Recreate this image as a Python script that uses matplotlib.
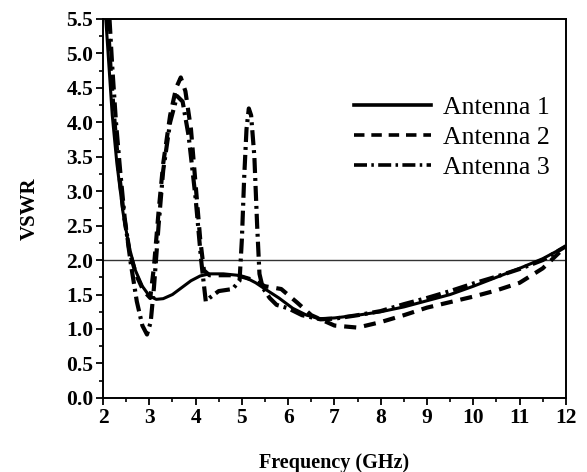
import matplotlib
matplotlib.use("Agg")
import matplotlib.pyplot as plt
from matplotlib.lines import Line2D

# Antenna 1 (solid)
f1 = [2.06, 2.12, 2.2, 2.3, 2.43, 2.56, 2.7, 2.85, 3.0, 3.15, 3.3, 3.5, 3.7, 3.9, 4.1, 4.3,
      4.6, 4.9, 5.1, 5.3, 5.5, 5.8, 6.1, 6.4, 6.7, 7.0, 7.5, 8.0, 8.5, 9.0, 9.5, 10.0,
      10.5, 11.0, 11.5, 12.0]
v1 = [5.5, 4.9, 4.1, 3.4, 2.7, 2.2, 1.85, 1.62, 1.48, 1.43, 1.44, 1.5, 1.6, 1.7, 1.77, 1.8,
      1.8, 1.78, 1.74, 1.67, 1.58, 1.45, 1.3, 1.2, 1.15, 1.16, 1.2, 1.25, 1.32, 1.41, 1.5, 1.62,
      1.75, 1.88, 2.02, 2.2]

# Antenna 2 (dashed)
f2 = [2.1, 2.17, 2.25, 2.34, 2.45, 2.58, 2.72, 2.87, 3.02, 3.1, 3.2, 3.3, 3.45, 3.58, 3.68,
      3.78, 3.9, 4.0, 4.1, 4.18, 4.3, 4.6, 4.9, 5.2, 5.5, 5.85, 6.2, 6.5, 7.0, 7.5, 8.0,
      8.5, 9.0, 9.5, 10.0, 10.5, 11.0, 11.5, 12.0]
v2 = [5.5, 4.7, 4.0, 3.3, 2.65, 2.1, 1.78, 1.56, 1.45, 1.9, 2.7, 3.4, 4.1, 4.5, 4.65,
      4.45, 3.9, 3.1, 2.3, 1.85, 1.78, 1.78, 1.78, 1.72, 1.62, 1.58, 1.38, 1.2, 1.05, 1.02, 1.1,
      1.2, 1.31, 1.39, 1.47, 1.56, 1.67, 1.88, 2.2]

# Antenna 3 (dash-dot)
f3 = [2.14, 2.2, 2.28, 2.37, 2.47, 2.6, 2.73, 2.85, 2.95, 3.03, 3.1, 3.2, 3.3, 3.45, 3.6,
      3.72, 3.85, 4.0, 4.12, 4.22, 4.3, 4.5, 4.8, 4.95, 5.0, 5.05, 5.1, 5.15, 5.2, 5.27,
      5.33, 5.38, 5.45, 5.6, 5.75, 6.0, 6.3, 6.7, 7.0, 7.5, 8.0, 8.5, 9.0, 9.5, 10.0,
      10.5, 11.0, 11.5, 12.0]
v3 = [5.5, 4.8, 4.0, 3.3, 2.6, 1.95, 1.4, 1.05, 0.92, 1.1, 1.6, 2.5, 3.3, 4.0, 4.38,
      4.3, 3.8, 2.9, 2.0, 1.4, 1.45, 1.55, 1.58, 1.7, 2.3, 3.2, 3.9, 4.2, 4.1, 3.5,
      2.5, 1.8, 1.6, 1.45, 1.35, 1.3, 1.2, 1.14, 1.15, 1.2, 1.26, 1.36, 1.45, 1.55, 1.66,
      1.76, 1.87, 2.0, 2.2]

labels = ["Antenna 1", "Antenna 2", "Antenna 3"]

plt.rcParams["font.family"] = ["Liberation Serif", "DejaVu Serif"]

dash = (0, (2.9, 1.9))
dashdot = (0, (3.6, 1.2, 0.7, 1.2))

fig = plt.figure(figsize=(5.87, 4.72), dpi=100)
ax = fig.add_axes([0.1755, 0.157, 0.7885, 0.803])

ax.axhline(2.0, color="#333333", lw=1.0, zorder=1)

ax.plot(f1, v1, color="black", lw=2.2, ls="-")
ax.plot(f2, v2, color="black", lw=3.0, ls=dash)
ax.plot(f3, v3, color="black", lw=3.0, ls=dashdot)

ax.set_xlim(2, 12)
ax.set_ylim(0, 5.5)
ax.set_xticks(range(2, 13))
ax.set_xticks([x + 0.5 for x in range(2, 12)], minor=True)
ax.set_yticks([i * 0.5 for i in range(12)])
ax.set_yticks([i * 0.5 + 0.25 for i in range(11)], minor=True)
ax.set_yticklabels([f"{i * 0.5:.1f}" for i in range(12)])

ax.tick_params(which="major", direction="out", length=5, width=1.3, labelsize=15.5, pad=2)
ax.tick_params(which="minor", direction="out", length=3, width=1.2)
for lab in ax.get_xticklabels() + ax.get_yticklabels():
    lab.set_fontweight("bold")
for s in ax.spines.values():
    s.set_linewidth(1.4)

ax.set_xlabel("Frequency (GHz)", fontsize=14.5, fontweight="bold", labelpad=18)
ax.set_ylabel("VSWR", fontsize=15, fontweight="bold", labelpad=19)

handles = [
    Line2D([], [], color="black", lw=2.6, ls="-"),
    Line2D([], [], color="black", lw=2.6, ls=dash),
    Line2D([], [], color="black", lw=2.6, ls=dashdot),
]
ax.legend(handles, labels, loc="upper left", bbox_to_anchor=(0.543, 0.797),
          frameon=False, fontsize=18.5, handlelength=3.0, handletextpad=0.45,
          labelspacing=0.28, borderpad=0, borderaxespad=0)

fig.savefig("out.png", dpi=100)
